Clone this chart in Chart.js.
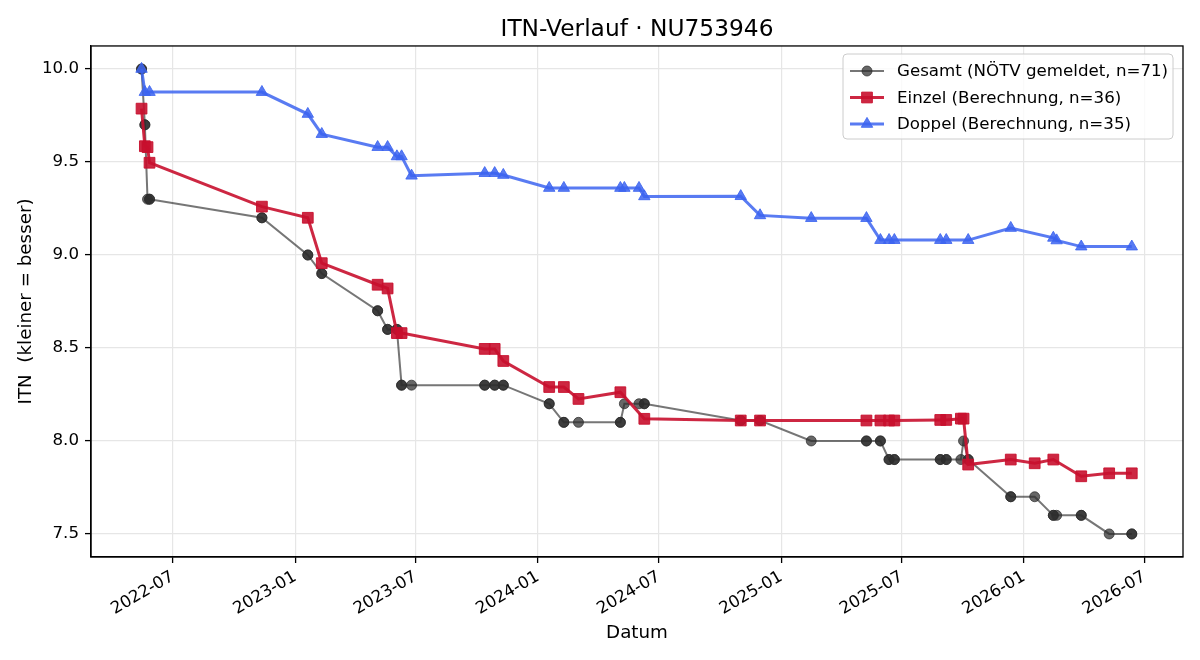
<!DOCTYPE html>
<html>
<head>
<meta charset="utf-8">
<script src="https://cdn.jsdelivr.net/npm/chart.js@4/dist/chart.umd.min.js"></script>
<style>
html,body{margin:0;padding:0;background:#fff;}
canvas{display:block;}
</style>
</head>
<body>
<canvas id="c" width="1200" height="660"></canvas>
<script>
// ---------- DATA ----------
const gesamtDates = [
  '2022-05-15','2022-05-15','2022-05-20','2022-05-20','2022-05-24','2022-05-27','2022-05-27',
  '2022-11-12','2022-11-12','2023-01-20','2023-01-20','2023-02-10','2023-02-10',
  '2023-05-05','2023-05-05','2023-05-20','2023-05-20','2023-06-03','2023-06-03',
  '2023-06-10','2023-06-10','2023-06-25',
  '2023-10-13','2023-10-13','2023-10-28','2023-10-28','2023-11-10','2023-11-10',
  '2024-01-18','2024-01-18','2024-02-09','2024-02-09','2024-03-02','2024-05-04','2024-05-04',
  '2024-05-10','2024-06-01','2024-06-09','2024-06-09',
  '2024-11-01','2024-11-01','2024-11-30','2024-11-30','2025-02-15',
  '2025-05-09','2025-05-09','2025-05-30','2025-05-30','2025-06-12','2025-06-12',
  '2025-06-20','2025-06-20','2025-08-28','2025-08-28','2025-09-06','2025-09-06',
  '2025-09-28','2025-10-02','2025-10-09','2025-10-09',
  '2025-12-12','2025-12-12','2026-01-17','2026-02-14','2026-02-14','2026-02-19',
  '2026-03-28','2026-03-28','2026-05-09','2026-06-12','2026-06-12'
];
const gesamtITN = [
  10.0,10.0,9.7,9.7,9.3,9.3,9.3,
  9.2,9.2,9.0,9.0,8.9,8.9,
  8.7,8.7,8.6,8.6,8.6,8.6,
  8.3,8.3,8.3,
  8.3,8.3,8.3,8.3,8.3,8.3,
  8.2,8.2,8.1,8.1,8.1,8.1,8.1,
  8.2,8.2,8.2,8.2,
  8.11,8.11,8.11,8.11,8.0,
  8.0,8.0,8.0,8.0,7.9,7.9,
  7.9,7.9,7.9,7.9,7.9,7.9,
  7.9,8.0,7.9,7.9,
  7.7,7.7,7.7,7.6,7.6,7.6,
  7.6,7.6,7.5,7.5,7.5
];

const einzelDates = [
  '2022-05-15','2022-05-20','2022-05-24','2022-05-27','2022-11-12','2023-01-20','2023-02-10',
  '2023-05-05','2023-05-20','2023-06-03','2023-06-10','2023-10-13','2023-10-28','2023-11-10',
  '2024-01-18','2024-02-09','2024-03-02','2024-05-04','2024-06-09','2024-11-01','2024-11-30',
  '2025-05-09','2025-05-30','2025-06-12','2025-06-20','2025-08-28','2025-09-06','2025-09-28',
  '2025-10-02','2025-10-09','2025-12-12','2026-01-17','2026-02-14','2026-03-28','2026-05-09',
  '2026-06-12'
];
const einzelITN = [
  9.787,9.585,9.58,9.496,9.26,9.20,8.956,
  8.84,8.82,8.58,8.58,8.495,8.495,8.43,
  8.29,8.29,8.226,8.262,8.119,8.11,8.11,
  8.11,8.11,8.11,8.11,8.113,8.113,8.12,
  8.12,7.873,7.90,7.88,7.90,7.81,7.826,
  7.826
];

const doppelDates = [
  '2022-05-15','2022-05-20','2022-05-27','2022-11-12','2023-01-20','2023-02-10','2023-05-05',
  '2023-05-20','2023-06-03','2023-06-10','2023-06-25','2023-10-13','2023-10-28','2023-11-10',
  '2024-01-18','2024-02-09','2024-05-04','2024-05-10','2024-06-01','2024-06-09','2024-11-01',
  '2024-11-30','2025-02-15','2025-05-09','2025-05-30','2025-06-12','2025-06-20','2025-08-28',
  '2025-09-06','2025-10-09','2025-12-12','2026-02-14','2026-02-19','2026-03-28','2026-06-12'
];
const doppelITN = [
  10.0,9.876,9.876,9.876,9.758,9.65,9.58,
  9.58,9.53,9.53,9.426,9.44,9.44,9.43,
  9.36,9.36,9.36,9.36,9.36,9.315,9.316,
  9.213,9.198,9.198,9.08,9.08,9.08,9.08,
  9.08,9.08,9.145,9.092,9.078,9.045,9.045
];

const seriesNames = ['Gesamt (NÖTV gemeldet, n=71)', 'Einzel (Berechnung, n=36)', 'Doppel (Berechnung, n=35)'];
const xTickLabels = ['2022-07','2023-01','2023-07','2024-01','2024-07','2025-01','2025-07','2026-01','2026-07'];
const yTickValues = [7.5, 8.0, 8.5, 9.0, 9.5, 10.0];
const xRange = ['2022-02-28', '2026-08-28'];
const yRange = [7.376, 10.124];

// ---------- STYLE ----------
const FONT = 'DejaVu Sans';
const C_GRAY_LINE = 'rgba(45,45,45,0.65)';
const C_GRAY_PT = 'rgba(45,45,45,0.72)';
const C_RED = 'rgba(200,16,46,0.9)';
const C_BLUE = 'rgba(60,100,240,0.85)';

const toPts = (dates, vals) => dates.map((d, i) => ({x: Date.parse(d), y: vals[i]}));

const styles = [
  {line: C_GRAY_LINE, pt: C_GRAY_PT, lw: 2, shape: 'circle', r: 5},
  {line: C_RED, pt: C_RED, lw: 3, shape: 'rect', r: 7.6},
  {line: C_BLUE, pt: C_BLUE, lw: 3, shape: 'triangle', r: 6.6}
];

function marker(ctx, shape, x, y, r, color) {
  ctx.save();
  ctx.fillStyle = color; ctx.strokeStyle = color; ctx.lineWidth = 1;
  ctx.beginPath();
  if (shape === 'circle') {
    ctx.arc(x, y, r, 0, Math.PI * 2);
  } else if (shape === 'rect') {
    const s = r / Math.SQRT2;
    ctx.rect(x - s, y - s, 2 * s, 2 * s);
  } else {
    let a = 0;
    ctx.moveTo(x + Math.sin(a) * r, y - Math.cos(a) * r);
    a += 2 * Math.PI / 3;
    ctx.lineTo(x + Math.sin(a) * r, y - Math.cos(a) * r);
    a += 2 * Math.PI / 3;
    ctx.lineTo(x + Math.sin(a) * r, y - Math.cos(a) * r);
    ctx.closePath();
  }
  ctx.fill(); ctx.stroke();
  ctx.restore();
}

const framePlugin = {
  id: 'frameLegend',
  afterDatasetsDraw(chart) {
    const ctx = chart.ctx, a = chart.chartArea;
    ctx.save();
    ctx.strokeStyle = '#000'; ctx.lineWidth = 1.3;
    ctx.strokeRect(a.left, a.top, a.right - a.left, a.bottom - a.top);
    // legend
    const bx = 843, by = 54, bw = 330, bh = 85, rr = 4;
    ctx.beginPath();
    ctx.moveTo(bx + rr, by);
    ctx.arcTo(bx + bw, by, bx + bw, by + bh, rr);
    ctx.arcTo(bx + bw, by + bh, bx, by + bh, rr);
    ctx.arcTo(bx, by + bh, bx, by, rr);
    ctx.arcTo(bx, by, bx + bw, by, rr);
    ctx.closePath();
    ctx.fillStyle = 'rgba(255,255,255,0.8)';
    ctx.fill();
    ctx.strokeStyle = '#cccccc'; ctx.lineWidth = 1;
    ctx.stroke();
    const rows = [71, 97.5, 124];
    ctx.font = '16.67px "' + FONT + '"';
    ctx.textBaseline = 'middle'; ctx.textAlign = 'left';
    seriesNames.forEach((name, i) => {
      const s = styles[i], y = rows[i];
      ctx.strokeStyle = s.line; ctx.lineWidth = s.lw;
      ctx.beginPath(); ctx.moveTo(850, y); ctx.lineTo(884, y); ctx.stroke();
      marker(ctx, s.shape, 867, y, s.r, s.pt);
      ctx.fillStyle = '#000';
      ctx.fillText(name, 897, y + 1);
    });
    ctx.restore();
  }
};

const ds = [
  {label: seriesNames[0], data: toPts(gesamtDates, gesamtITN), order: 3},
  {label: seriesNames[1], data: toPts(einzelDates, einzelITN), order: 2},
  {label: seriesNames[2], data: toPts(doppelDates, doppelITN), order: 1}
].map((d, i) => Object.assign(d, {
  borderColor: styles[i].line,
  backgroundColor: styles[i].pt,
  pointBackgroundColor: styles[i].pt,
  pointBorderColor: styles[i].pt,
  pointBorderWidth: 1,
  borderWidth: styles[i].lw,
  pointStyle: styles[i].shape,
  pointRadius: styles[i].r,
  pointHoverRadius: styles[i].r,
  tension: 0,
  fill: false,
  clip: false
}));

Chart.defaults.font.family = FONT;
Chart.defaults.color = '#000';

new Chart(document.getElementById('c'), {
  type: 'line',
  data: {datasets: ds},
  options: {
    responsive: false,
    animation: false,
    devicePixelRatio: 1,
    layout: {padding: {left: 0, right: 17, top: 0, bottom: 0}},
    plugins: {
      legend: {display: false},
      tooltip: {enabled: false},
      title: {
        display: true,
        text: 'ITN-Verlauf · NU753946',
        fullSize: false,
        font: {size: 23.3, weight: 'normal', family: FONT},
        color: '#000',
        padding: {top: 15.5, bottom: 2.5}
      }
    },
    scales: {
      x: {
        type: 'linear',
        min: Date.parse(xRange[0]),
        max: Date.parse(xRange[1]),
        afterBuildTicks: (s) => { s.ticks = xTickLabels.map(l => ({value: Date.parse(l + '-01')})); },
        afterFit: (s) => { s.height = 103; },
        ticks: {
          autoSkip: false, maxRotation: 30, minRotation: 30,
          padding: 4,
          font: {size: 16.67, family: FONT}, color: '#000',
          callback: (v, i) => xTickLabels[i]
        },
        grid: {color: '#e6e6e6', lineWidth: 1.2, tickColor: '#000', tickLength: 6, tickWidth: 1.3, drawTicks: true},
        border: {display: true, color: '#000', width: 1.3},
        title: {display: true, text: 'Datum', font: {size: 18.3, family: FONT}, color: '#000', padding: {top: 0, bottom: 16}}
      },
      y: {
        type: 'linear',
        min: yRange[0],
        max: yRange[1],
        afterBuildTicks: (s) => { s.ticks = yTickValues.map(v => ({value: v})); },
        afterFit: (s) => { s.width = 91; },
        ticks: {
          padding: 6,
          font: {size: 16.67, family: FONT}, color: '#000',
          callback: (v) => Number(v).toFixed(1)
        },
        grid: {color: '#e6e6e6', lineWidth: 1.2, tickColor: '#000', tickLength: 6, tickWidth: 1.3, drawTicks: true},
        border: {display: true, color: '#000', width: 1.3},
        title: {display: true, text: 'ITN  (kleiner = besser)', font: {size: 18.3, family: FONT}, color: '#000', padding: {top: 15, bottom: 0}}
      }
    }
  },
  plugins: [framePlugin]
});
</script>
</body>
</html>
